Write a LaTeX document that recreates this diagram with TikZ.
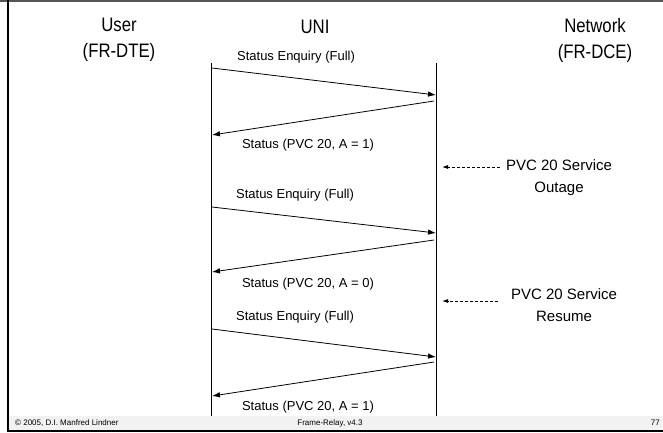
\documentclass[tikz,border=0pt]{standalone}
\usepackage{fontspec}
\setmainfont{Liberation Sans}
\usetikzlibrary{arrows.meta}
\definecolor{footbg}{HTML}{F2F2F2}
\definecolor{topbar}{HTML}{555555}
% narrow the header lettering horizontally
\newcommand{\hsquash}[1]{\scalebox{0.86}[1]{#1}}
\begin{document}
\begin{tikzpicture}[x=1pt,y=-1pt,
  hdr/.style={font=\fontsize{19.5}{26}\selectfont, align=center, inner sep=0},
  msglbl/.style={font=\fontsize{13}{15}\selectfont, inner sep=0},
  note/.style={font=\fontsize{15}{22}\selectfont, align=center, inner sep=0},
  foot/.style={font=\fontsize{8}{9}\selectfont, inner sep=0},
  life/.style={line width=1.6pt},
  msg/.style={line width=0.8pt, -{Latex[length=8pt,width=5.5pt]}},
  event/.style={line width=0.8pt, dash pattern=on 3pt off 2pt, -{Latex[length=6pt,width=4pt]}}]
\useasboundingbox (0,0) rectangle (663,432);

% slide frame and footer band
\fill[footbg] (9,416) rectangle (663,430);
\fill[topbar] (0,0) rectangle (663,2);
\draw[line width=2pt] (8,0) -- (8,432);
\draw[line width=1.5pt] (8,431) -- (663,431);

% column headers
\node[hdr] (user) at (119,40) {\hsquash{User}\\\hsquash{(FR-DTE)}};
\node[hdr] (uni) at (315,27) {\hsquash{UNI}};
\node[hdr] (net) at (595,40) {\hsquash{Network}\\\hsquash{(FR-DCE)}};

% lifelines
\coordinate (dteTop) at (211.5,63);
\coordinate (dteBot) at (211.5,416);
\coordinate (dceTop) at (436.5,63);
\coordinate (dceBot) at (436.5,416);
\draw[life] (dteTop) -- (dteBot);
\draw[life] (dceTop) -- (dceBot);

% first poll
\coordinate (a1) at (212,68);
\coordinate (b1) at (436,95);
\coordinate (b2) at (434,101);
\coordinate (a2) at (212,135);
\draw[msg] (a1) -- (b1);
\draw[msg] (b2) -- (a2);
\node[msglbl] (enq1) at (296,57) {Status Enquiry (Full)};
\node[msglbl] (st1) at (308,145) {Status (PVC 20, A = 1)};

% outage event
\node[note] (outage) at (559,178) {PVC 20 Service\\Outage};
\coordinate (o1) at (500,167);
\coordinate (o2) at (442,167);
\draw[event] (o1) -- (o2);

% second poll
\coordinate (a3) at (212,207);
\coordinate (b3) at (436,233);
\coordinate (b4) at (434,240);
\coordinate (a4) at (212,272);
\draw[msg] (a3) -- (b3);
\draw[msg] (b4) -- (a4);
\node[msglbl] (enq2) at (295,195) {Status Enquiry (Full)};
\node[msglbl] (st2) at (308,284) {Status (PVC 20, A = 0)};

% resume event
\node[note] (resume) at (564,305) {PVC 20 Service\\Resume};
\coordinate (r1) at (498,301);
\coordinate (r2) at (442,301);
\draw[event] (r1) -- (r2);

% third poll
\coordinate (a5) at (212,329);
\coordinate (b5) at (436,357);
\coordinate (b6) at (434,362);
\coordinate (a6) at (212,396);
\draw[msg] (a5) -- (b5);
\draw[msg] (b6) -- (a6);
\node[msglbl] (enq3) at (295,317) {Status Enquiry (Full)};
\node[msglbl] (st3) at (308,407) {Status (PVC 20, A = 1)};

% footer
\node[foot, anchor=west] (copy) at (15,423) {\textcopyright\ 2005, D.I. Manfred Lindner};
\node[foot] (title) at (330,423) {Frame-Relay, v4.3};
\node[foot, anchor=east] (page) at (660,423) {77};
\end{tikzpicture}
\end{document}
